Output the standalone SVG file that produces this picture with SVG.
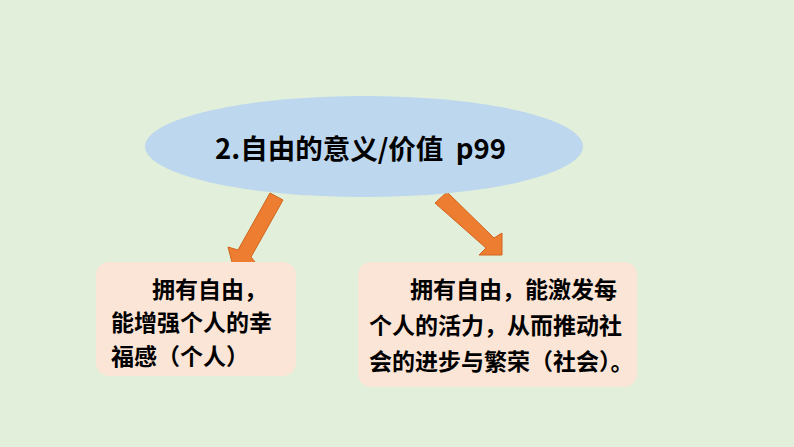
<svg xmlns="http://www.w3.org/2000/svg" width="794" height="447" viewBox="0 0 794 447">
<style>
.bg{fill:#E2EFDA}
.arrow{fill:#ED7D31;stroke:#D0641E;stroke-width:1}
.box{fill:#FBE5D6}
.t{font-family:"Noto Sans CJK SC","Noto Sans",sans-serif;font-weight:bold;fill:#000}
.title{font-size:27.5px}
.body{font-size:23px}
</style>
<rect class="bg" x="0" y="0" width="794" height="447"/>
<g id="connectors">
<polygon class="arrow" points="270,193 283,200 251,257 255,262 233,266 228,247 238,250"/>
<polygon class="arrow" points="447,192 494,238 502,233 502,255 479,255 486,248 435,203"/>
</g>
<g id="node-title">
<ellipse cx="364" cy="146.5" rx="219" ry="50.5" fill="#BDD7EE"/>
<text class="t title" x="215" y="159" xml:space="preserve">2.自由的意义/价值  p99</text>
</g>
<g id="node-personal">
<rect class="box" x="96" y="262" width="200" height="114" rx="13"/>
<text class="t body" x="152" y="298">拥有自由，</text>
<text class="t body" x="111" y="331">能增强个人的幸</text>
<text class="t body" x="111" y="365">福感（个人）</text>
</g>
<g id="node-society">
<rect class="box" x="358" y="262" width="279" height="125" rx="13"/>
<text class="t body" x="410" y="298">拥有自由，能激发每</text>
<text class="t body" x="369" y="334">个人的活力，从而推动社</text>
<text class="t body" x="369" y="370">会的进步与繁荣（社会）。</text>
</g>
</svg>
